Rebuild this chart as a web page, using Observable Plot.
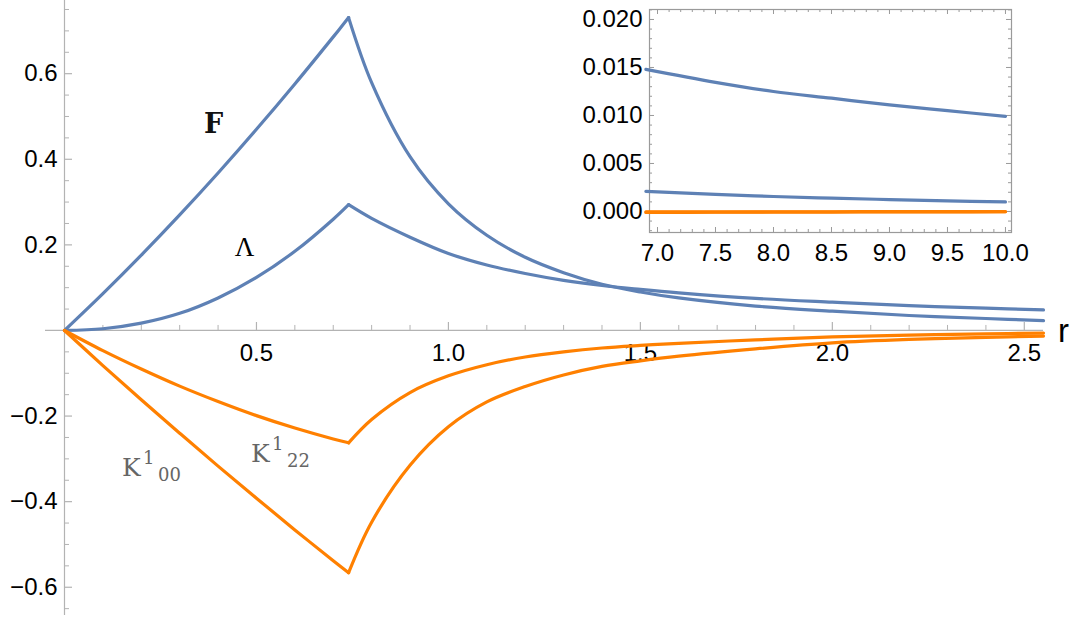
<!DOCTYPE html>
<html>
<head>
<meta charset="utf-8">
<script src="https://cdn.jsdelivr.net/npm/d3@7"></script>
<script src="https://cdn.jsdelivr.net/npm/@observablehq/plot@0.6"></script>
<style>
  body { margin: 0; background: #fff; }
  #wrap { position: relative; width: 1071px; height: 621px; }
  #wrap svg { position: absolute; top: 0; }
</style>
</head>
<body>
<div id="wrap"></div>
<script>
// ---------- data ----------
// inside the core (r from 0 to the cusp at r ≈ 0.74)
const rIn      = [0, 0.1, 0.2, 0.3, 0.4, 0.5, 0.6, 0.7, 0.74];
const F_in     = [0, 0.086, 0.176, 0.270, 0.368, 0.470, 0.576, 0.686, 0.731];
const Lam_in   = [0, 0.004, 0.017, 0.040, 0.076, 0.124, 0.185, 0.260, 0.294];
const K00_in   = [0, -0.082, -0.162, -0.240, -0.317, -0.392, -0.466, -0.538, -0.566];
const K22_in   = [0, -0.047, -0.090, -0.130, -0.166, -0.199, -0.228, -0.2535, -0.2625];
// outside the core
const rOut     = [0.74, 0.8, 0.9, 1.0, 1.1, 1.2, 1.3, 1.4, 1.5, 1.6, 1.8, 2.0, 2.2, 2.4, 2.55];
const F_out    = [0.731, 0.579, 0.406, 0.296, 0.2225, 0.171, 0.135, 0.108, 0.090, 0.076, 0.057, 0.045, 0.035, 0.028, 0.023];
const Lam_out  = [0.294, 0.262, 0.218, 0.180, 0.153, 0.133, 0.117, 0.105, 0.096, 0.088, 0.075, 0.066, 0.058, 0.052, 0.048];
const K00_out  = [-0.566, -0.448, -0.315, -0.225, -0.167, -0.131, -0.104, -0.084, -0.071, -0.060, -0.043, -0.029, -0.021, -0.016, -0.013];
const K22_out  = [-0.2625, -0.208, -0.145, -0.106, -0.080, -0.062, -0.050, -0.041, -0.035, -0.030, -0.022, -0.015, -0.011, -0.008, -0.006];
// inset, far field
const rInset    = [6.9, 7.5, 8.0, 8.5, 9.0, 9.5, 10.0];
const Lam_inset = [0.0148, 0.01345, 0.0125, 0.0118, 0.0111, 0.0105, 0.0099];
const F_inset   = [0.0021, 0.00178, 0.00156, 0.00139, 0.00124, 0.00111, 0.00099];
const K00_inset = [-0.0001, -0.00008, -0.00007, -0.00006, -0.00005, -0.00004, -0.00003];
const K22_inset = [-0.00005, -0.00004, -0.00003, -0.00003, -0.00002, -0.00002, -0.00001];

// ticks
const xMajor = [0.5, 1.0, 1.5, 2.0, 2.5];
const xMajorLabels = ["0.5", "1.0", "1.5", "2.0", "2.5"];
const yMajor = [-0.6, -0.4, -0.2, 0.2, 0.4, 0.6];
const yMajorLabels = ["\u22120.6", "\u22120.4", "\u22120.2", "0.2", "0.4", "0.6"];
const insetXMajor = [7.0, 7.5, 8.0, 8.5, 9.0, 9.5, 10.0];
const insetXLabels = ["7.0", "7.5", "8.0", "8.5", "9.0", "9.5", "10.0"];
const insetYMajor = [0, 0.005, 0.010, 0.015, 0.020];
const insetYLabels = ["0.000", "0.005", "0.010", "0.015", "0.020"];

// curve labels
const fLabel = [{name: "F", r: 0.388, v: 0.462}];
const lamLabel = [{name: "\u039b", r: 0.469, v: 0.175}];
const kLabels = [
  {base: "K", sup: "1", sub: "00", r: 0.150, v: -0.339},
  {base: "K", sup: "1", sub: "22", r: 0.486, v: -0.308}
];

// ---------- build tables ----------
const BLUE = "#5e81b5", ORANGE = "#ff8000", AXIS = "#b3b3b3";
function rows(name, seg, rs, vs) { return rs.map((r, i) => ({name, seg, r, v: vs[i], key: name + seg})); }
const blueRows = [
  ...rows("F", "in", rIn, F_in), ...rows("F", "out", rOut, F_out),
  ...rows("L", "in", rIn, Lam_in), ...rows("L", "out", rOut, Lam_out)
];
const orangeRows = [
  ...rows("K00", "in", rIn, K00_in), ...rows("K00", "out", rOut, K00_out),
  ...rows("K22", "in", rIn, K22_in), ...rows("K22", "out", rOut, K22_out)
];
const insetBlue = [...rows("L", "x", rInset, Lam_inset), ...rows("F", "x", rInset, F_inset)];
const insetOrange = [...rows("K00", "x", rInset, K00_inset), ...rows("K22", "x", rInset, K22_inset)];

const xMinor = d3.range(1, 26).map(i => i / 10).filter(v => !xMajor.some(m => Math.abs(m - v) < 1e-9));
const yMinor = d3.range(-13, 16).map(i => i * 0.05).filter(v => Math.abs(v) > 1e-9 && !yMajor.some(m => Math.abs(m - v) < 1e-9));
const insetXMinor = d3.range(70, 101).map(i => i / 10).filter(v => !insetXMajor.some(m => Math.abs(m - v) < 1e-9));
const insetYMinor = d3.range(-2, 22).map(i => i / 1000).filter(v => !insetYMajor.some(m => Math.abs(m - v) < 1e-9));

const tickFont = "Arimo, 'Liberation Sans', Arial, Helvetica, sans-serif";
const slabFont = "'DejaVu Serif', 'Liberation Serif', serif";
const serifFont = "'Liberation Serif', 'Times New Roman', serif";

// ---------- main chart ----------
const main = Plot.plot({
  width: 1071, height: 621,
  marginLeft: 64, marginRight: 28, marginTop: 0, marginBottom: 6,
  x: {domain: [0, 2.55], axis: null},
  y: {domain: [-0.666, 0.771], axis: null},
  style: {background: "transparent", overflow: "visible"},
  marks: [
    // axes
    Plot.ruleY([0], {stroke: AXIS, strokeWidth: 1.2, insetLeft: -19}),
    Plot.ruleX([0], {stroke: AXIS, strokeWidth: 1.2}),
    // ticks on the x axis (pointing up)
    Plot.ruleX(xMajor, {x: d => d, y1: () => 0, y2: () => 0, insetTop: -8, stroke: AXIS, strokeWidth: 1.2}),
    Plot.ruleX(xMinor, {x: d => d, y1: () => 0, y2: () => 0, insetTop: -5, stroke: AXIS, strokeWidth: 1}),
    // ticks on the y axis (pointing right)
    Plot.ruleY(yMajor, {y: d => d, x1: () => 0, x2: () => 0, insetRight: -8, stroke: AXIS, strokeWidth: 1.2}),
    Plot.ruleY(yMinor, {y: d => d, x1: () => 0, x2: () => 0, insetRight: -5, stroke: AXIS, strokeWidth: 1}),
    // tick labels
    Plot.text(xMajor, {x: d => d, y: () => 0, text: (d, i) => xMajorLabels[i], dy: 23, lineAnchor: "middle", textAnchor: "middle", fontSize: 24, fontFamily: tickFont, fill: "#000"}),
    Plot.text(yMajor, {x: () => 0, y: d => d, text: (d, i) => yMajorLabels[i], dx: -7, lineAnchor: "middle", textAnchor: "end", fontSize: 24, fontFamily: tickFont, fill: "#000"}),
    Plot.text(["r"], {x: () => 2.55, y: () => 0, text: d => d, dx: 20, dy: 1, lineAnchor: "middle", textAnchor: "middle", fontSize: 33, fontFamily: tickFont, fill: "#000"}),
    // curves
    Plot.line(blueRows, {x: "r", y: "v", z: "key", stroke: BLUE, strokeWidth: 3.2, curve: "catmull-rom"}),
    Plot.line(orangeRows, {x: "r", y: "v", z: "key", stroke: ORANGE, strokeWidth: 3.2, curve: "catmull-rom"}),
    // curve labels
    Plot.text(fLabel, {x: "r", y: "v", text: "name", textAnchor: "middle", lineAnchor: "bottom", fontSize: 27, fontWeight: "bold", fontFamily: slabFont, fill: "#111"}),
    Plot.text(lamLabel, {x: "r", y: "v", text: "name", textAnchor: "middle", lineAnchor: "bottom", fontSize: 27, fontFamily: serifFont, fill: "#000"}),
    Plot.text(kLabels, {x: "r", y: "v", text: "base", textAnchor: "start", lineAnchor: "bottom", fontSize: 25, fontFamily: slabFont, fill: "#666"}),
    Plot.text(kLabels, {x: "r", y: "v", text: "sup", dx: 21, dy: -12, textAnchor: "start", lineAnchor: "bottom", fontSize: 18, fontFamily: slabFont, fill: "#666"}),
    Plot.text(kLabels, {x: "r", y: "v", text: "sub", dx: 36, dy: 5, textAnchor: "start", lineAnchor: "bottom", fontSize: 18, fontFamily: slabFont, fill: "#666", letterSpacing: 1})
  ]
});

// ---------- inset ----------
const IW = 511, IH = 270, IML = 89, IMR = 60, IMT = 9, IMB = 38;
const innerW = IW - IML - IMR, innerH = IH - IMT - IMB;
const FRAME = "#9a9a9a";
const inset = Plot.plot({
  width: IW, height: IH,
  marginLeft: IML, marginRight: IMR, marginTop: IMT, marginBottom: IMB,
  x: {domain: [6.931, 10.052], axis: null},
  y: {domain: [-0.00219, 0.02104], axis: null},
  style: {background: "transparent", overflow: "visible"},
  marks: [
    Plot.frame({stroke: FRAME, strokeWidth: 1.2}),
    // top & bottom ticks
    Plot.ruleX(insetXMajor, {x: d => d, insetBottom: innerH - 5, stroke: FRAME}),
    Plot.ruleX(insetXMinor, {x: d => d, insetBottom: innerH - 3, stroke: FRAME}),
    Plot.ruleX(insetXMajor, {x: d => d, insetTop: innerH - 5, stroke: FRAME}),
    Plot.ruleX(insetXMinor, {x: d => d, insetTop: innerH - 3, stroke: FRAME}),
    // left & right ticks
    Plot.ruleY(insetYMajor, {y: d => d, insetRight: innerW - 5, stroke: FRAME}),
    Plot.ruleY(insetYMinor, {y: d => d, insetRight: innerW - 3, stroke: FRAME}),
    Plot.ruleY(insetYMajor, {y: d => d, insetLeft: innerW - 5, stroke: FRAME}),
    Plot.ruleY(insetYMinor, {y: d => d, insetLeft: innerW - 3, stroke: FRAME}),
    // labels
    Plot.text(insetXMajor, {x: d => d, frameAnchor: "bottom", text: (d, i) => insetXLabels[i], dy: 21, lineAnchor: "middle", textAnchor: "middle", fontSize: 24, fontFamily: tickFont, fill: "#000"}),
    Plot.text(insetYMajor, {y: d => d, frameAnchor: "left", text: (d, i) => insetYLabels[i], dx: -7, lineAnchor: "middle", textAnchor: "end", fontSize: 24, fontFamily: tickFont, fill: "#000"}),
    // curves
    Plot.line(insetBlue, {x: "r", y: "v", z: "key", stroke: BLUE, strokeWidth: 3.2, curve: "catmull-rom"}),
    Plot.line(insetOrange, {x: "r", y: "v", z: "key", stroke: ORANGE, strokeWidth: 3.2, curve: "catmull-rom"})
  ]
});
inset.style.left = "560px";

const wrap = document.getElementById("wrap");
main.style.left = "0px";
wrap.appendChild(main);
wrap.appendChild(inset);
</script>
</body>
</html>
